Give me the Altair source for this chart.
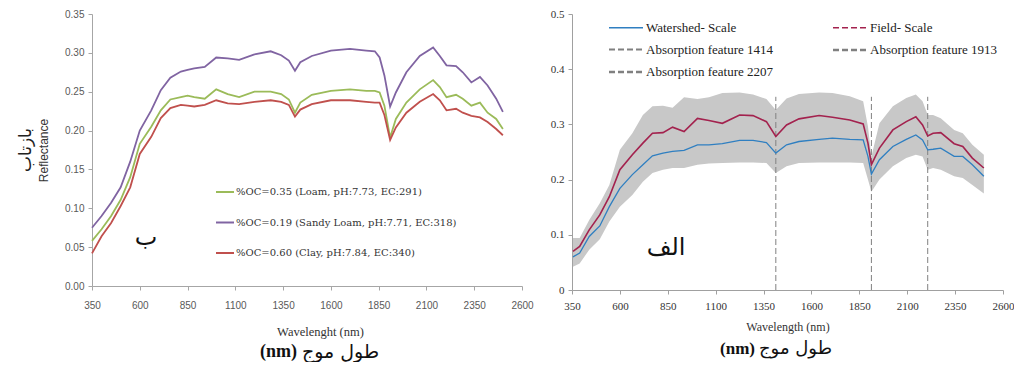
import altair as alt
import pandas as pd

# ---------------- left panel (ب) ----------------
wl_left = [350, 400, 450, 500, 550, 600, 660, 710, 760, 815, 850, 885, 940, 1000, 1060,
           1120, 1200, 1285, 1340, 1380, 1412, 1440, 1500, 1600, 1700, 1785, 1830, 1855,
           1880, 1910, 1940, 1995, 2065, 2135, 2170, 2205, 2255, 2290, 2335, 2380, 2420,
           2465, 2500]
oc_035 = [0.058, 0.073, 0.090, 0.111, 0.140, 0.183, 0.205, 0.226, 0.240, 0.243, 0.245, 0.243,
          0.241, 0.253, 0.247, 0.243, 0.250, 0.250, 0.247, 0.240, 0.223, 0.236, 0.246, 0.251,
          0.253, 0.251, 0.251, 0.249, 0.232, 0.191, 0.215, 0.236, 0.253, 0.265, 0.256, 0.243,
          0.246, 0.241, 0.232, 0.236, 0.223, 0.215, 0.202]
oc_019 = [0.075, 0.090, 0.107, 0.127, 0.160, 0.200, 0.226, 0.252, 0.268, 0.276, 0.278, 0.280,
          0.282, 0.294, 0.293, 0.291, 0.298, 0.302, 0.297, 0.290, 0.277, 0.288, 0.296, 0.303,
          0.305, 0.303, 0.302, 0.294, 0.271, 0.231, 0.249, 0.275, 0.296, 0.307, 0.296, 0.284,
          0.283, 0.275, 0.262, 0.269, 0.258, 0.241, 0.224]
oc_060 = [0.042, 0.064, 0.081, 0.103, 0.127, 0.170, 0.192, 0.216, 0.229, 0.233, 0.232, 0.231,
          0.233, 0.239, 0.235, 0.234, 0.237, 0.239, 0.237, 0.233, 0.218, 0.227, 0.234, 0.239,
          0.239, 0.237, 0.236, 0.236, 0.220, 0.188, 0.204, 0.223, 0.237, 0.247, 0.239, 0.226,
          0.228, 0.223, 0.219, 0.217, 0.211, 0.202, 0.194]
left_series = ["%OC=0.35 (Loam, pH:7.73, EC:291)",
               "%OC=0.19 (Sandy Loam, pH:7.71, EC:318)",
               "%OC=0.60 (Clay, pH:7.84, EC:340)"]
left_colors = ["#9BBB59", "#8064A2", "#C0504D"]

# ---------------- right panel (الف) ----------------
wl_right = [355, 390, 440, 495, 545, 600, 665, 720, 770, 825, 875, 935, 1005, 1065, 1135,
            1225, 1295, 1365, 1414, 1470, 1535, 1640, 1710, 1800, 1870, 1895, 1913, 1955,
            2025, 2095, 2145, 2180, 2207, 2235, 2275, 2345, 2390, 2440, 2500]
watershed = [0.060, 0.067, 0.097, 0.116, 0.151, 0.184, 0.209, 0.227, 0.243, 0.248, 0.251,
             0.253, 0.263, 0.263, 0.265, 0.271, 0.271, 0.267, 0.248, 0.263, 0.269, 0.273,
             0.275, 0.273, 0.272, 0.242, 0.210, 0.236, 0.260, 0.273, 0.281, 0.272, 0.254,
             0.255, 0.257, 0.242, 0.242, 0.227, 0.206]
field = [0.070, 0.079, 0.109, 0.136, 0.169, 0.218, 0.245, 0.266, 0.284, 0.285, 0.295, 0.287,
         0.311, 0.307, 0.302, 0.317, 0.316, 0.305, 0.278, 0.299, 0.310, 0.316, 0.313, 0.308,
         0.301, 0.266, 0.227, 0.257, 0.290, 0.305, 0.314, 0.299, 0.279, 0.284, 0.285, 0.265,
         0.260, 0.239, 0.221]
band_upper = [0.094, 0.094, 0.127, 0.157, 0.190, 0.254, 0.284, 0.317, 0.333, 0.334, 0.330,
              0.349, 0.346, 0.349, 0.357, 0.358, 0.354, 0.346, 0.326, 0.347, 0.355, 0.358,
              0.357, 0.351, 0.342, 0.296, 0.242, 0.302, 0.333, 0.348, 0.354, 0.342, 0.317,
              0.317, 0.311, 0.290, 0.284, 0.263, 0.245]
band_lower = [0.042, 0.048, 0.073, 0.092, 0.124, 0.151, 0.172, 0.196, 0.212, 0.218, 0.221,
              0.221, 0.227, 0.229, 0.230, 0.231, 0.231, 0.230, 0.212, 0.224, 0.230, 0.231,
              0.231, 0.231, 0.230, 0.200, 0.178, 0.200, 0.224, 0.239, 0.245, 0.242, 0.218,
              0.221, 0.218, 0.206, 0.203, 0.190, 0.175]
features = [1414, 1913, 2207]
right_series = ["Watershed- Scale", "Field- Scale", "Absorption feature 1414",
                "Absorption feature 1913", "Absorption feature 2207"]
right_colors = ["#2F7FC1", "#A3224E", "#808080", "#808080", "#808080"]

x_ticks = list(range(350, 2601, 250))
SERIF = "Liberation Serif, Times New Roman, serif"
SANS = "Liberation Sans, Arial, sans-serif"
ARABIC = "DejaVu Sans, sans-serif"

# ---------------- tables ----------------
left_df = pd.DataFrame({
    "wl": wl_left * 3,
    "refl": oc_035 + oc_019 + oc_060,
    "series": [left_series[0]] * len(wl_left) + [left_series[1]] * len(wl_left)
              + [left_series[2]] * len(wl_left),
})
right_band = pd.DataFrame({"wl": wl_right, "upper": band_upper, "lower": band_lower})
right_lines = pd.DataFrame({
    "wl": wl_right * 2,
    "refl": watershed + field,
    "series": [right_series[0]] * len(wl_right) + [right_series[1]] * len(wl_right),
})
feat_df = pd.DataFrame({"wl": features, "series": right_series[2:]})
left_tag = pd.DataFrame({"t": ["ب"], "wl": [633], "refl": [0.062]})
right_tag = pd.DataFrame({"t": ["الف"], "wl": [841], "refl": [0.076]})

one = pd.DataFrame({"k": [0]})

# ---------------- left chart ----------------
lx_axis = alt.Axis(values=x_ticks, format="d", grid=False, title="Wavelenght (nm)",
                   titleFont=SERIF, titleFontSize=12.5, titleFontWeight="normal",
                   titleColor="#333333", titlePadding=15, titleX=228,
                   labelFont=SANS, labelFontSize=10, labelColor="#595959", labelFlush=False,
                   labelOverlap=False, labelPadding=10, tickSize=4,
                   domainColor="#A6A6A6", tickColor="#A6A6A6")
ly_axis = alt.Axis(values=[0, 0.05, 0.1, 0.15, 0.2, 0.25, 0.3, 0.35], format=".2f",
                   grid=False, title="Reflectance", titleFont=SANS,
                   titleFontSize=12, titleFontWeight="normal", titleColor="#333333",
                   titlePadding=14, labelFont=SANS, labelFontSize=10, labelOverlap=False,
                   labelColor="#595959", labelPadding=4, tickSize=4,
                   domainColor="#A6A6A6", tickColor="#A6A6A6")
lscale_x = alt.Scale(domain=[350, 2600], nice=False)
lscale_y = alt.Scale(domain=[0, 0.35], nice=False)

left_lines = alt.Chart(left_df).mark_line(strokeWidth=1.8).encode(
    x=alt.X("wl:Q", scale=lscale_x, axis=lx_axis),
    y=alt.Y("refl:Q", scale=lscale_y, axis=ly_axis),
    color=alt.Color("series:N", scale=alt.Scale(domain=left_series, range=left_colors),
                    sort=left_series,
                    legend=alt.Legend(orient="none", legendX=123, legendY=168, title=None,
                                      symbolType="stroke", symbolSize=324, symbolStrokeWidth=2,
                                      labelFont="DejaVu Serif, serif", labelFontSize=10,
                                      labelColor="#333333", labelOffset=1, rowPadding=15.5,
                                      padding=0, labelLimit=400)),
)
left_label = alt.Chart(left_tag).mark_text(
    font=ARABIC, fontSize=24, color="#111111").encode(
    x=alt.X("wl:Q", scale=lscale_x, axis=lx_axis),
    y=alt.Y("refl:Q", scale=lscale_y, axis=ly_axis), text="t:N")
left_ytitle = alt.Chart(one).mark_text(
    text="بازتاب", angle=270, font=ARABIC, fontSize=17, color="#222222").encode(
    x=alt.value(-66), y=alt.value(136))
left_xt1 = alt.Chart(one).mark_text(
    text="(nm)", font=SERIF, fontWeight="bold", fontSize=18, align="right",
    color="#111111").encode(x=alt.value(205), y=alt.value(338))
left_xt2 = alt.Chart(one).mark_text(
    text="طول موج", font=ARABIC, fontSize=19, align="left",
    color="#111111").encode(x=alt.value(210), y=alt.value(338))

left = alt.layer(left_lines, left_label, left_ytitle, left_xt1, left_xt2).properties(
    width=430, height=272)

# ---------------- right chart ----------------
rx_axis = alt.Axis(values=x_ticks, format="d", grid=False, title="Wavelength (nm)",
                   titleFont=SERIF, titleFontSize=12, titleFontWeight="normal",
                   titleColor="#333333", titlePadding=10, labelFlush=False, labelOverlap=False,
                   labelFont=SERIF, labelFontSize=11, labelColor="#333333",
                   labelPadding=6, tickSize=4, domainColor="#A0A0A0", tickColor="#A0A0A0")
ry_axis = alt.Axis(values=[0, 0.1, 0.2, 0.3, 0.4, 0.5], format=".1~f", grid=False,
                   title=None, labelFont=SERIF, labelFontSize=11, labelOverlap=False,
                   labelColor="#333333", labelPadding=4, tickSize=4,
                   domainColor="#A0A0A0", tickColor="#A0A0A0")
rscale_x = alt.Scale(domain=[350, 2600], nice=False)
rscale_y = alt.Scale(domain=[0, 0.5], nice=False)

band = alt.Chart(right_band).mark_area(color="#C8C8C8", opacity=1).encode(
    x=alt.X("wl:Q", scale=rscale_x, axis=rx_axis),
    y=alt.Y("lower:Q", scale=rscale_y, axis=ry_axis),
    y2="upper:Q")

rcolor = alt.Color("series:N", scale=alt.Scale(domain=right_series, range=right_colors),
                   sort=right_series,
                   legend=alt.Legend(orient="none", legendX=44, legendY=4, title=None,
                                     direction="horizontal", columns=2,
                                     symbolType="M-2,0L2,0", symbolSize=289,
                                     labelFont=SERIF, labelFontSize=13,
                                     labelColor="#222222", labelOffset=10, rowPadding=5,
                                     columnPadding=54, padding=0, labelLimit=400))
rlines = alt.Chart(right_lines).mark_line().encode(
    x=alt.X("wl:Q", scale=rscale_x, axis=rx_axis),
    y=alt.Y("refl:Q", scale=rscale_y, axis=ry_axis),
    color=rcolor,
    strokeWidth=alt.StrokeWidth("series:N", scale=alt.Scale(domain=right_series,
                                                            range=[1.3, 2.6, 1, 1, 1]),
                                legend=None),
)
rules = alt.Chart(feat_df).mark_rule(strokeWidth=1).encode(
    x=alt.X("wl:Q", scale=rscale_x, axis=rx_axis),
    y=alt.datum(0), y2=alt.datum(0.35), color=rcolor,
    strokeDash=alt.StrokeDash("series:N", scale=alt.Scale(
        domain=right_series, range=[[1, 0], [6, 3], [6, 3], [6, 3], [6, 3]]), legend=None),
)
right_label = alt.Chart(right_tag).mark_text(
    font=ARABIC, fontSize=24, color="#111111").encode(
    x=alt.X("wl:Q", scale=rscale_x, axis=rx_axis),
    y=alt.Y("refl:Q", scale=rscale_y, axis=ry_axis), text="t:N")
right_xt1 = alt.Chart(one).mark_text(
    text="(nm)", font=SERIF, fontWeight="bold", fontSize=17, align="right",
    color="#111111").encode(x=alt.value(183), y=alt.value(335))
right_xt2 = alt.Chart(one).mark_text(
    text="طول موج", font=ARABIC, fontSize=18, align="left",
    color="#111111").encode(x=alt.value(187), y=alt.value(335))

right = alt.layer(band, rules, rlines, right_label, right_xt1, right_xt2).properties(
    width=431, height=276)

chart = alt.hconcat(left, right, spacing=16).resolve_scale(
    color="independent", strokeWidth="independent", strokeDash="independent"
).properties(
    padding={"left": 17, "top": 8, "right": 0, "bottom": 0}, background="white"
).configure_view(stroke=None)

chart.save("out.html", embed_options={"renderer": "svg", "actions": False})
